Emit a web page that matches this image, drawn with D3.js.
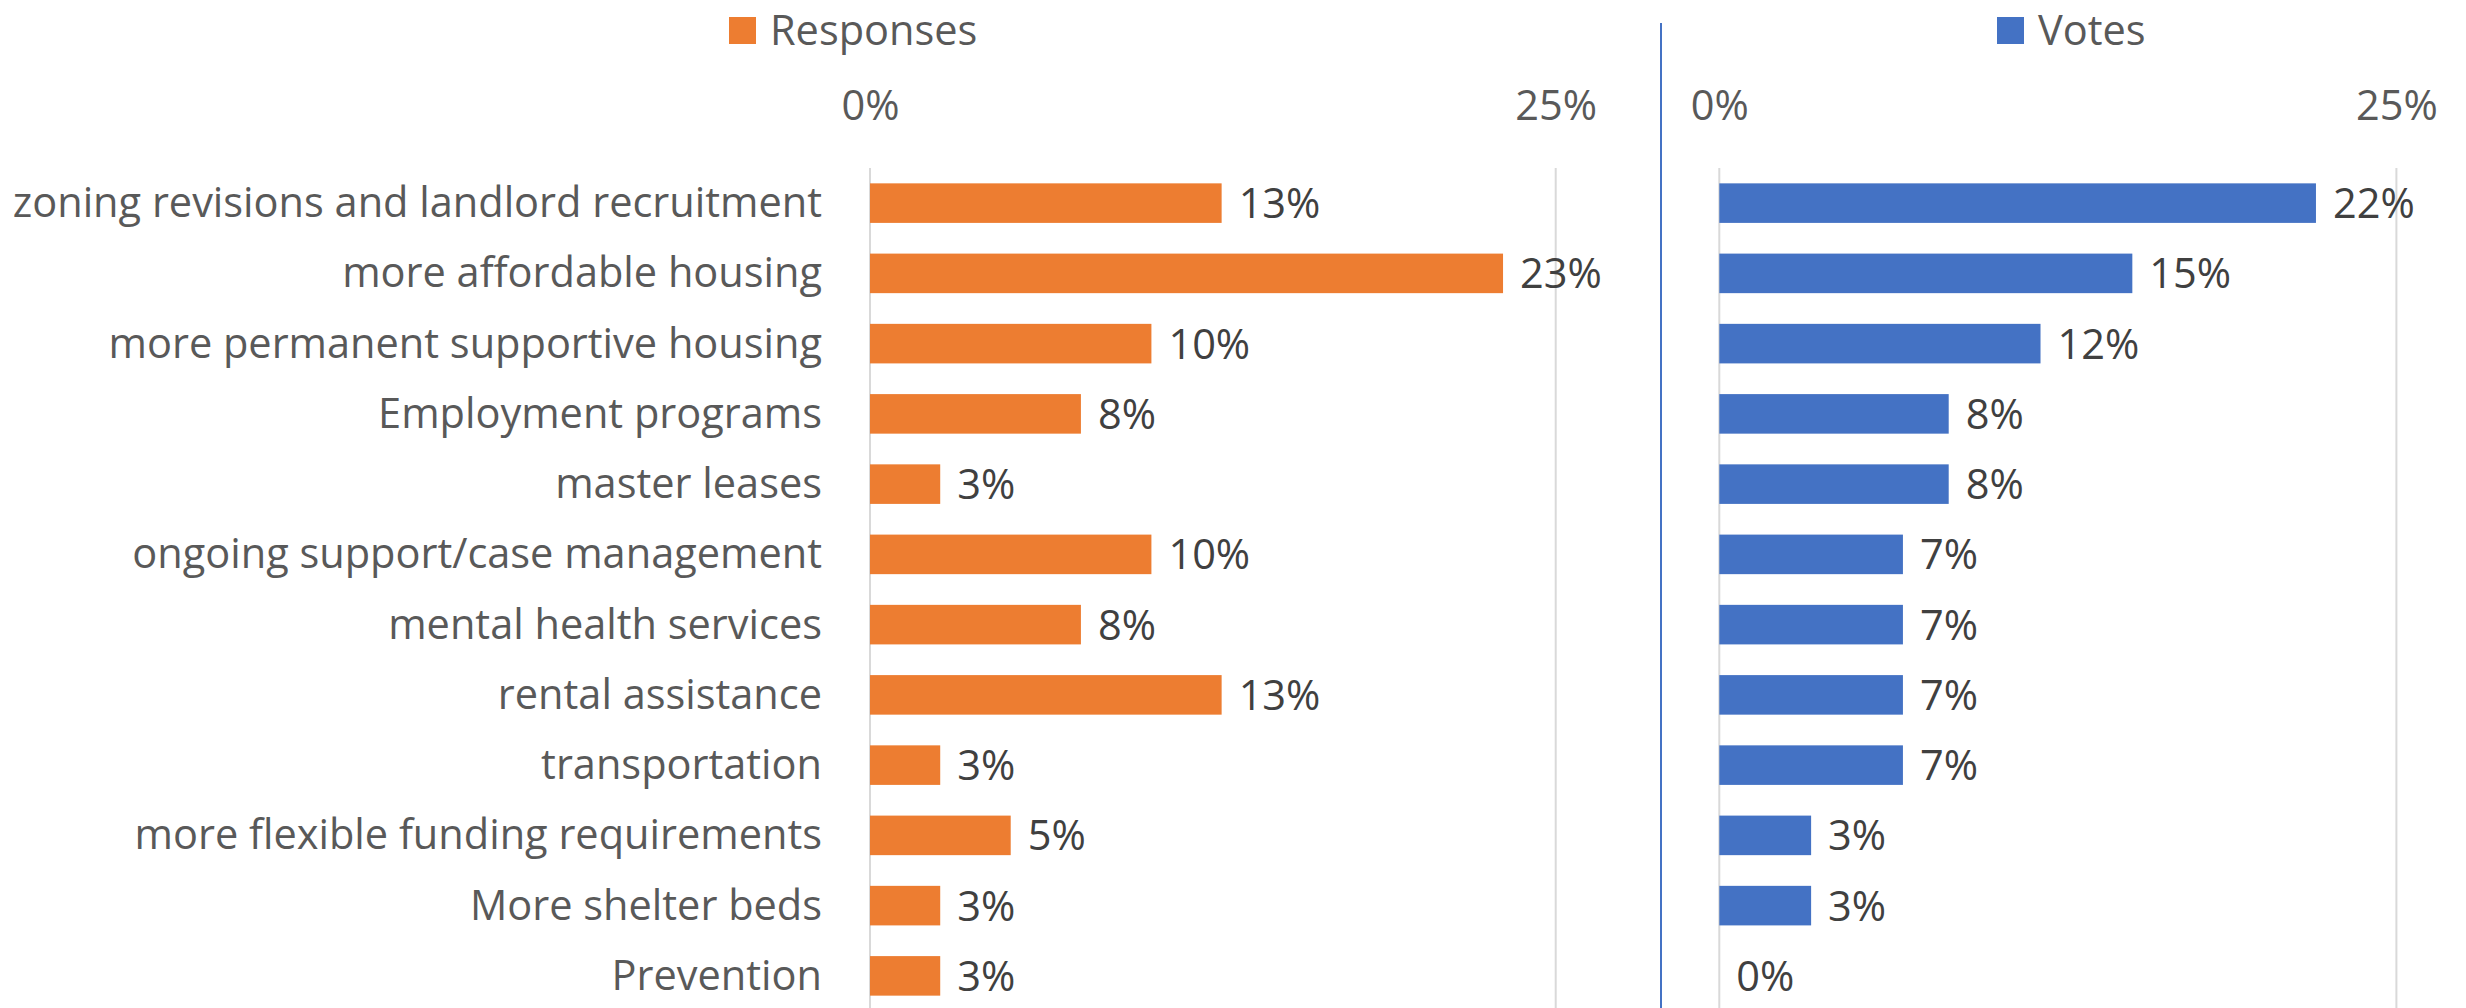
<!DOCTYPE html>
<html>
<head>
<meta charset="utf-8">
<script src="https://cdn.jsdelivr.net/npm/d3@7"></script>
<style>
  html, body { margin: 0; padding: 0; background: #fff; }
  svg { display: block; font-family: "Open Sans", sans-serif; }
</style>
</head>
<body>
<div id="chart"></div>
<script>
// categories, top to bottom
const categories = [
  "zoning revisions and landlord recruitment",
  "more affordable housing",
  "more permanent supportive housing",
  "Employment programs",
  "master leases",
  "ongoing support/case management",
  "mental health services",
  "rental assistance",
  "transportation",
  "more flexible funding requirements",
  "More shelter beds",
  "Prevention"
];

// percent values
const responses = [12.82, 23.08, 10.26, 7.69, 2.56, 10.26, 7.69, 12.82, 2.56, 5.13, 2.56, 2.56];
const votes = [22.03, 15.25, 11.86, 8.47, 8.47, 6.78, 6.78, 6.78, 6.78, 3.39, 3.39, 0];

const xTicks = [0, 25];

const width = 2466, height = 1008;
const plotTop = 168, plotBottom = 1011;
const fontSize = 41.5;

const svg = d3.select("#chart")
  .append("svg")
  .attr("width", width)
  .attr("height", height);

let y = d3.scaleBand()
  .domain(categories)
  .range([plotTop, plotBottom])
  .paddingInner(0.437)
  .paddingOuter(0.2185);

let panels = [
  {name: "Responses", values: responses, color: "#ED7D31", x0: 870, x1: 1555.7, legendX: 729, labels: true},
  {name: "Votes", values: votes, color: "#4472C4", x0: 1719.3, x1: 2396.4, legendX: 1997, labels: false}
];

// divider between the two charts
svg.append("line")
  .attr("x1", 1661).attr("x2", 1661)
  .attr("y1", 23).attr("y2", height)
  .attr("stroke", "#4472C4")
  .attr("stroke-width", 2);

panels.forEach(p => {
  let x = d3.scaleLinear().domain([0, 25]).range([p.x0, p.x1]);
  let g = svg.append("g");

  // gridlines
  g.append("g")
    .selectAll("line")
    .data(xTicks)
    .join("line")
    .attr("x1", d => x(d)).attr("x2", d => x(d))
    .attr("y1", plotTop).attr("y2", plotBottom)
    .attr("stroke", "#D9D9D9")
    .attr("stroke-width", 2);

  // tick labels
  let axis = g.append("g")
    .attr("transform", `translate(0,${plotTop})`)
    .call(d3.axisTop(x).tickValues(xTicks).tickFormat(d => d + "%").tickSize(0).tickPadding(48));
  axis.select(".domain").remove();
  axis.selectAll("text")
    .attr("fill", "#595959")
    .style("font-size", fontSize + "px")
    .style("font-family", "'Open Sans', sans-serif");

  // bars
  g.append("g")
    .selectAll("rect")
    .data(p.values)
    .join("rect")
    .attr("x", x(0))
    .attr("y", (d, i) => y(categories[i]))
    .attr("width", d => x(d) - x(0))
    .attr("height", y.bandwidth())
    .attr("fill", p.color);

  // value labels
  g.append("g")
    .selectAll("text")
    .data(p.values)
    .join("text")
    .attr("x", d => x(d) + 17)
    .attr("y", (d, i) => y(categories[i]) + y.bandwidth() / 2 + 15)
    .attr("fill", "#404040")
    .style("font-size", fontSize + "px")
    .text(d => Math.round(d) + "%");

  // category labels (left chart only)
  if (p.labels) {
    g.append("g")
      .selectAll("text")
      .data(categories)
      .join("text")
      .attr("x", x(0) - 48)
      .attr("y", d => y(d) + y.bandwidth() / 2 + 14)
      .attr("text-anchor", "end")
      .attr("fill", "#595959")
      .style("font-size", fontSize + "px")
      .text(d => d);
  }

  // legend
  let lg = g.append("g").attr("transform", `translate(${p.legendX},0)`);
  lg.append("rect")
    .attr("x", 0).attr("y", 17)
    .attr("width", 27).attr("height", 27)
    .attr("fill", p.color);
  lg.append("text")
    .attr("x", 41).attr("y", 45)
    .attr("fill", "#595959")
    .style("font-size", fontSize + "px")
    .text(p.name);
});
</script>
</body>
</html>
